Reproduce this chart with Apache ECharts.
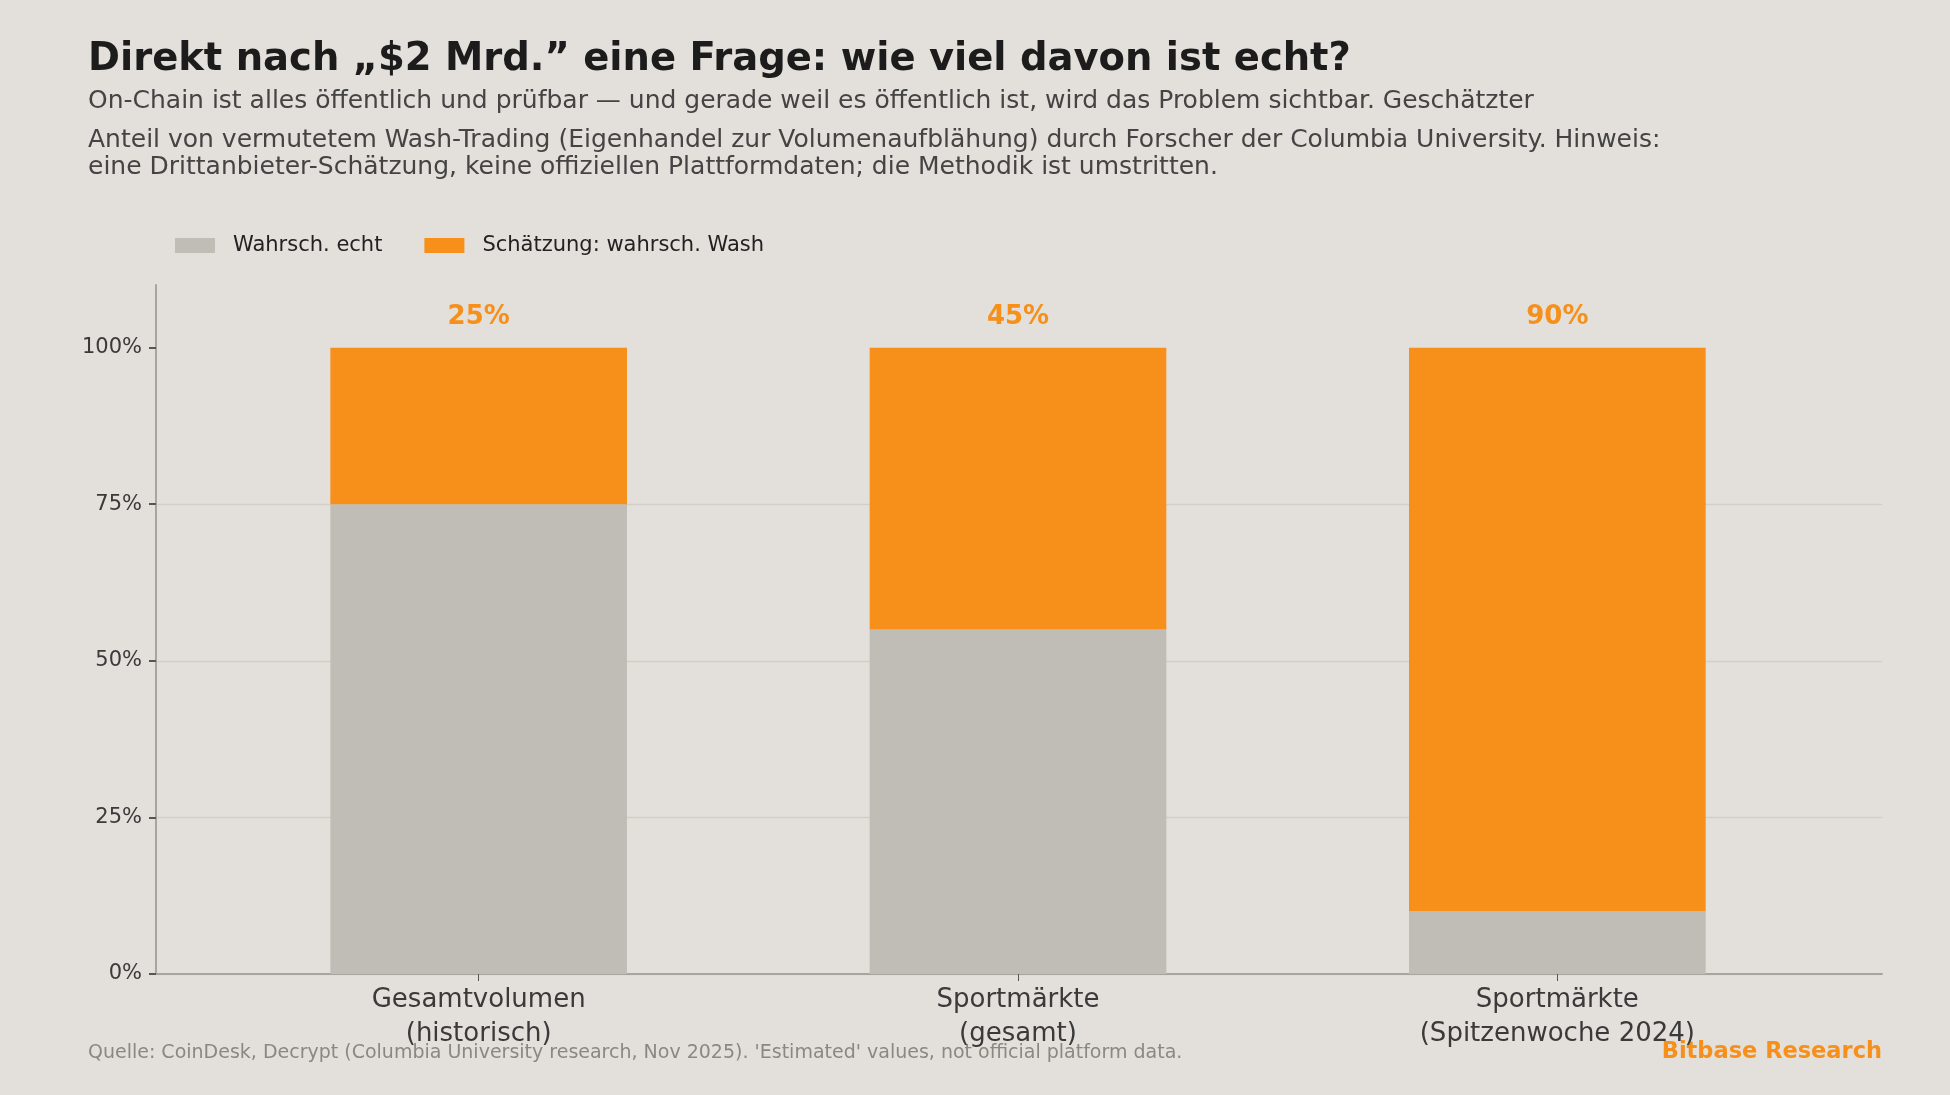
<!DOCTYPE html>
<html>
<head>
<meta charset="utf-8">
<script src="https://cdn.jsdelivr.net/npm/echarts@6/dist/echarts.min.js"></script>
<style>
  html, body { margin: 0; padding: 0; background: #e3dfda; }
  #chart { width: 1950px; height: 1095px; }
</style>
</head>
<body>
<div id="chart"></div>
<script>
// Daten
const categories = ['Gesamtvolumen\n(historisch)', 'Sportmärkte\n(gesamt)', 'Sportmärkte\n(Spitzenwoche 2024)']
const echtValues = [75, 55, 10]
const washValues = [25, 45, 90]
const seriesNames = ['Wahrsch. echt', 'Schätzung: wahrsch. Wash']
const yTicks = [0, 25, 50, 75, 100]

const title = 'Direkt nach „$2 Mrd.” eine Frage: wie viel davon ist echt?'
const subLines = [
  'On-Chain ist alles öffentlich und prüfbar — und gerade weil es öffentlich ist, wird das Problem sichtbar. Geschätzter',
  'Anteil von vermutetem Wash-Trading (Eigenhandel zur Volumenaufblähung) durch Forscher der Columbia University. Hinweis:',
  'eine Drittanbieter-Schätzung, keine offiziellen Plattformdaten; die Methodik ist umstritten.'
]
const source = "Quelle: CoinDesk, Decrypt (Columbia University research, Nov 2025). 'Estimated' values, not official platform data."
const brand = 'Bitbase Research'

const FONT = '"DejaVu Sans", sans-serif'
const GRAY = '#c0bcb6'
const ORANGE = '#f6901a'
const TOP = 285
const BOTTOM = 121

const chart = echarts.init(document.getElementById('chart'))

// grid 0 = Rahmen (Achsenlinien, y-Beschriftung, Gitter), grid 1 = Balken
const option = {
  backgroundColor: '#e3dfda',
  textStyle: { fontFamily: FONT },
  animation: false,
  title: {
    text: title,
    left: 88,
    top: 40,
    padding: 0,
    textStyle: { fontSize: 38.5, fontWeight: 'bold', color: '#1c1c1c', fontFamily: FONT },
  },
  graphic: [
    { type: 'text', left: 88, top: 89, style: { text: subLines[0], fontSize: 25, fill: '#444', fontFamily: FONT } },
    { type: 'text', left: 88, top: 128, style: { text: subLines[1], fontSize: 25, fill: '#444', fontFamily: FONT } },
    { type: 'text', left: 88, top: 155, style: { text: subLines[2], fontSize: 25, fill: '#444', fontFamily: FONT } },
    { type: 'text', left: 88, top: 1044, style: { text: source, fontSize: 19, fill: '#8c8782', fontFamily: FONT } },
    { type: 'text', right: 68, top: 1041, style: { text: brand, fontSize: 22.5, fontWeight: 'bold', fill: ORANGE, fontFamily: FONT } },
  ],
  legend: {
    left: 175,
    top: 235,
    padding: 0,
    itemWidth: 40,
    itemHeight: 15,
    itemGap: 42,
    icon: 'rect',
    data: seriesNames,
    textStyle: { fontSize: 21, color: '#222', padding: [0, 0, 0, 13], fontFamily: FONT },
  },
  grid: [
    { left: 156, right: 68, top: TOP, bottom: BOTTOM },
    { left: 209, right: 123, top: TOP, bottom: BOTTOM },
  ],
  xAxis: [
    {
      gridIndex: 0,
      type: 'value',
      min: 0,
      max: 1,
      axisLine: { show: true, onZero: false, lineStyle: { color: '#a8a5a1', width: 2 } },
      axisTick: { show: false },
      axisLabel: { show: false },
      splitLine: { show: false },
    },
    {
      gridIndex: 1,
      type: 'category',
      data: categories,
      axisLine: { show: false },
      axisTick: { show: true, alignWithLabel: true, length: 7, lineStyle: { color: '#555' } },
      axisLabel: { fontSize: 26, lineHeight: 34, color: '#3a3a3a', margin: 9, fontFamily: FONT },
    },
  ],
  yAxis: [
    {
      gridIndex: 0,
      type: 'value',
      min: 0,
      max: 110,
      interval: 25,
      axisLine: { show: true, onZero: false, lineStyle: { color: '#a8a5a1', width: 2 } },
      axisTick: { show: true, customValues: yTicks, length: 7, lineStyle: { color: '#555', width: 2 } },
      axisLabel: {
        customValues: yTicks,
        formatter: (v) => v + '%',
        fontSize: 21,
        color: '#3a3a3a',
        margin: 14,
        fontFamily: FONT,
      },
      splitLine: { show: true, showMaxLine: false, lineStyle: { color: '#d2cec8', width: 1.3 } },
    },
    {
      gridIndex: 1,
      type: 'value',
      min: 0,
      max: 110,
      show: false,
    },
  ],
  series: [
    {
      name: seriesNames[0],
      type: 'bar',
      xAxisIndex: 1,
      yAxisIndex: 1,
      stack: 'total',
      barWidth: '55%',
      itemStyle: { color: GRAY },
      data: echtValues,
    },
    {
      name: seriesNames[1],
      type: 'bar',
      xAxisIndex: 1,
      yAxisIndex: 1,
      stack: 'total',
      barWidth: '55%',
      itemStyle: { color: ORANGE },
      label: {
        show: true,
        position: 'top',
        distance: 17,
        formatter: (p) => p.value + '%',
        fontSize: 26,
        fontWeight: 'bold',
        color: ORANGE,
        fontFamily: FONT,
      },
      data: washValues,
    },
  ],
}

chart.setOption(option)
</script>
</body>
</html>
